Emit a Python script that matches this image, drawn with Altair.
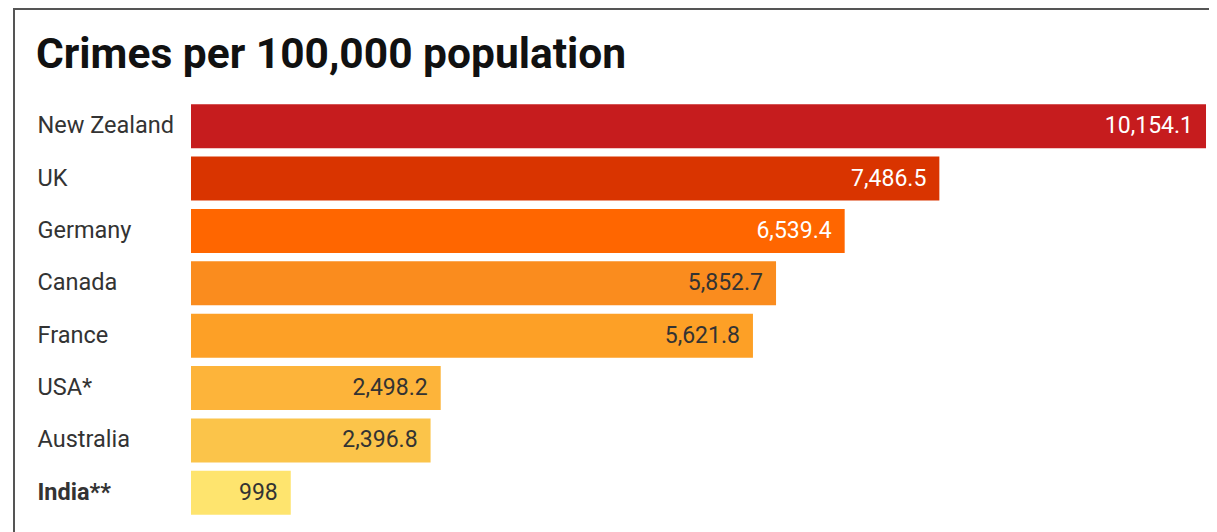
import altair as alt
import pandas as pd

title = "Crimes per 100,000 population"
countries = ["New Zealand", "UK", "Germany", "Canada", "France", "USA*", "Australia", "India**"]
values = [10154.1, 7486.5, 6539.4, 5852.7, 5621.8, 2498.2, 2396.8, 998]
labels = ["10,154.1", "7,486.5", "6,539.4", "5,852.7", "5,621.8", "2,498.2", "2,396.8", "998"]
colors = ["#c61c1e", "#d93400", "#ff6600", "#fa8c1e", "#fda026", "#fdb43a", "#fbc44a", "#fee46e"]
text_colors = ["#ffffff", "#ffffff", "#ffffff", "#333333", "#333333", "#333333", "#333333", "#333333"]

df = pd.DataFrame({"country": countries, "value": values, "label": labels,
                   "color": colors, "tcolor": text_colors})

W, H = 1017, 419

y_enc = alt.Y("country:N", sort=countries,
              scale=alt.Scale(paddingInner=0.16, paddingOuter=0.08),
              axis=alt.Axis(title=None, ticks=False, domain=False,
                            labelAlign="left", labelPadding=154,
                            labelFont="Roboto", labelFontSize=23.5,
                            labelColor="#333333",
                            labelFontWeight={"condition": {"test": "datum.value === 'India**'", "value": "bold"}, "value": "normal"}))
x_enc = alt.X("value:Q", scale=alt.Scale(domain=[0, 10174], nice=False), axis=None)

bars = alt.Chart(df).mark_bar().encode(
    y=y_enc, x=x_enc, color=alt.Color("color:N", scale=None))

text = alt.Chart(df).mark_text(align="right", baseline="middle", dx=-13,
                               font="Roboto", fontSize=23).encode(
    y=alt.Y("country:N", sort=countries), x="value:Q", text="label:N",
    color=alt.Color("tcolor:N", scale=None))

title_mark = alt.Chart(pd.DataFrame({"t": [title]})).mark_text(
    align="left", baseline="alphabetic", font="Roboto", fontSize=42.5,
    fontWeight="bold", color="#111111").encode(
    text="t:N", x=alt.value(-155), y=alt.value(-32))

frame_top = alt.Chart(df).mark_rule(color="#555555", strokeWidth=2).encode(
    x=alt.value(-177), x2=alt.value(W + 1), y=alt.value(-91))
frame_left = alt.Chart(df).mark_rule(color="#555555", strokeWidth=2).encode(
    x=alt.value(-177), y=alt.value(-92), y2=alt.value(H + 13))

chart = alt.layer(bars, text, title_mark, frame_top, frame_left).properties(
    width=W, height=H,
    autosize=alt.AutoSizeParams(type="none"),
    padding={"left": 183, "top": 92, "right": 1, "bottom": 13},
).configure_view(stroke=None)

chart.save("out.html", embed_options={"renderer": "svg", "actions": False})
